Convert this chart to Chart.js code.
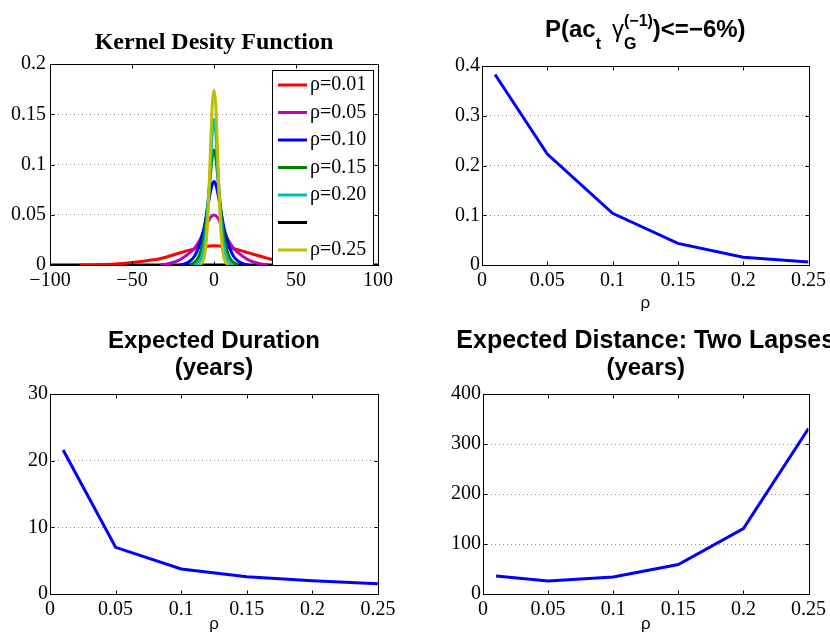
<!DOCTYPE html>
<html>
<head>
<meta charset="utf-8">
<script src="https://cdn.jsdelivr.net/npm/chart.js@4.4.1/dist/chart.umd.min.js"></script>
<style>
    html, body { margin: 0; padding: 0; background: #fff; overflow: hidden; }
    canvas { position: absolute; }
</style>
</head>
<body>
<canvas id="kdeChart" width="415" height="310" style="left:0;top:0"></canvas>
<canvas id="probChart" width="415" height="315" style="left:415px;top:0"></canvas>
<canvas id="durationChart" width="415" height="325" style="left:0;top:310px"></canvas>
<canvas id="distanceChart" width="415" height="325" style="left:415px;top:310px"></canvas>
<script>
// Kernel density curves, [x, density] pairs
var kdeRed = [[-82, 0], [-70, 0.0003], [-60, 0.0009], [-50, 0.0024], [-40, 0.0045], [-33, 0.0063], [-25, 0.0100], [-20, 0.0125], [-15, 0.0148], [-10, 0.0168], [-5, 0.0185], [0, 0.0192], [5, 0.0187], [10, 0.0170], [15, 0.0150], [20, 0.0126], [25, 0.0102], [30, 0.0079], [35, 0.0057], [40, 0.0040], [50, 0.0021], [60, 0.0009], [70, 0.0003], [82, 0]];
var kdeMagenta = [[-33, 0], [-28, 0.0013], [-24, 0.0030], [-20, 0.0060], [-16, 0.0105], [-12, 0.0165], [-10, 0.0210], [-8, 0.0270], [-6, 0.0345], [-4, 0.0418], [-2, 0.0476], [0, 0.0498], [2, 0.0476], [4, 0.0418], [6, 0.0345], [8, 0.0270], [10, 0.0210], [12, 0.0165], [16, 0.0105], [20, 0.0060], [24, 0.0030], [28, 0.0013], [33, 0]];
var kdeBlue = [[-21, 0], [-18, 0.0012], [-15, 0.0035], [-12, 0.0085], [-10, 0.0150], [-8, 0.0245], [-6, 0.0375], [-4, 0.0560], [-3, 0.0655], [-2, 0.0740], [-1, 0.0805], [0, 0.0830], [1, 0.0805], [2, 0.0740], [3, 0.0655], [4, 0.0560], [6, 0.0375], [8, 0.0245], [10, 0.0150], [12, 0.0085], [15, 0.0035], [18, 0.0012], [21, 0]];
var kdeGreen = [[-15, 0], [-12, 0.0025], [-10, 0.0060], [-8, 0.0140], [-6, 0.0300], [-5, 0.0420], [-4, 0.0570], [-3, 0.0750], [-2, 0.0930], [-1, 0.1085], [0, 0.1145], [1, 0.1085], [2, 0.0930], [3, 0.0750], [4, 0.0570], [5, 0.0420], [6, 0.0300], [8, 0.0140], [10, 0.0060], [12, 0.0025], [15, 0]];
var kdeCyan = [[-12, 0], [-10, 0.0015], [-8, 0.0060], [-6, 0.0190], [-5, 0.0310], [-4, 0.0490], [-3, 0.0740], [-2, 0.1040], [-1, 0.1330], [0, 0.1450], [1, 0.1330], [2, 0.1040], [3, 0.0740], [4, 0.0490], [5, 0.0310], [6, 0.0190], [8, 0.0060], [10, 0.0015], [12, 0]];
var kdeBlack = [[-100, 0], [100, 0]];
var kdeYellow = [[-9, 0], [-7, 0.0030], [-6, 0.0075], [-5, 0.0180], [-4, 0.0390], [-3, 0.0760], [-2, 0.1220], [-1, 0.1610], [0, 0.1740], [1, 0.1610], [2, 0.1220], [3, 0.0760], [4, 0.0390], [5, 0.0180], [6, 0.0075], [7, 0.0030], [9, 0]];
var kdeLabels = ['ρ=0.01', 'ρ=0.05', 'ρ=0.10', 'ρ=0.15', 'ρ=0.20', '', 'ρ=0.25'];
var kdeXTicks = [-100, -50, 0, 50, 100];
var kdeYTicks = [0, 0.05, 0.1, 0.15, 0.2];

// The other three panels share the same rho grid
var rho = [0.01, 0.05, 0.1, 0.15, 0.2, 0.25];
var probDrop = [0.383, 0.223, 0.104, 0.0435, 0.0155, 0.006];
var duration = [21.6, 7.0, 3.75, 2.6, 2.0, 1.55];
var distance = [36, 26, 34, 59, 131, 331];
var rhoTicks = [0, 0.05, 0.1, 0.15, 0.2, 0.25];
var probYTicks = [0, 0.1, 0.2, 0.3, 0.4];
var durationYTicks = [0, 10, 20, 30];
var distanceYTicks = [0, 100, 200, 300, 400];

var serif = '"Liberation Serif", "Times New Roman", serif';
var sans = '"Liberation Sans", Arial, sans-serif';
var kdeColors = ['#ff0000', '#bf00bf', '#0000ff', '#008000', '#00bfbf', '#000000', '#bfbf00'];

function tickText(v) {
    return String(+v.toFixed(4)).replace('-', '\u2212');
}

function fixedTicks(values) {
    return function (scale) {
        scale.ticks = values.map(function (v) { return { value: v }; });
    };
}

function toPoints(pairs) {
    return pairs.map(function (p) { return { x: p[0], y: p[1] }; });
}

// MATLAB style box with inward tick marks on all four sides
var axesBox = {
    id: 'axesBox',
    afterDatasetsDraw: function (chart) {
        var ctx = chart.ctx, a = chart.chartArea;
        var sx = chart.scales.x, sy = chart.scales.y;
        var l = Math.round(a.left) + 0.5, r = Math.round(a.right) + 0.5;
        var t = Math.round(a.top) + 0.5, b = Math.round(a.bottom) + 0.5;
        ctx.save();
        ctx.strokeStyle = '#000';
        ctx.lineWidth = 1;
        ctx.beginPath();
        sx.ticks.forEach(function (tk) {
            var px = Math.round(sx.getPixelForValue(tk.value)) + 0.5;
            ctx.moveTo(px, b); ctx.lineTo(px, b - 4);
            ctx.moveTo(px, t); ctx.lineTo(px, t + 4);
        });
        sy.ticks.forEach(function (tk) {
            var py = Math.round(sy.getPixelForValue(tk.value)) + 0.5;
            ctx.moveTo(l, py); ctx.lineTo(l + 4, py);
            ctx.moveTo(r, py); ctx.lineTo(r - 4, py);
        });
        ctx.stroke();
        ctx.strokeRect(l, t, r - l, b - t);
        ctx.restore();
    }
};

// Title made of runs so sub/superscripts can be placed; centred on the plot area
function panelTitle(lines) {
    return {
        id: 'panelTitle',
        afterDraw: function (chart) {
            var ctx = chart.ctx, a = chart.chartArea;
            var cx = (a.left + a.right) / 2;
            ctx.save();
            ctx.fillStyle = '#000';
            ctx.textAlign = 'left';
            ctx.textBaseline = 'alphabetic';
            lines.forEach(function (line) {
                var widths = line.runs.map(function (run) {
                    if (run.gap) return run.gap;
                    ctx.font = run.font;
                    var parts = run.stack || [run];
                    return Math.max.apply(null, parts.map(function (p) { return ctx.measureText(p.text).width; }));
                });
                var total = widths.reduce(function (s, w) { return s + w; }, 0);
                var x = cx - total / 2;
                line.runs.forEach(function (run, i) {
                    if (!run.gap) {
                        ctx.font = run.font;
                        (run.stack || [run]).forEach(function (p) {
                            ctx.fillText(p.text, x, line.y + (p.dy || 0));
                        });
                    }
                    x += widths[i];
                });
            });
            ctx.restore();
        }
    };
}

// Legend box sitting inside the top-right corner of the density plot
var kdeLegend = {
    id: 'kdeLegend',
    afterDraw: function (chart) {
        var ctx = chart.ctx, a = chart.chartArea;
        var left = Math.round(a.right) - 106, right = Math.round(a.right) - 5;
        var top = Math.round(a.top) + 6, bottom = Math.round(a.bottom);
        ctx.save();
        ctx.fillStyle = '#fff';
        ctx.fillRect(left, top, right - left, bottom - top);
        ctx.strokeStyle = '#000';
        ctx.lineWidth = 1;
        ctx.strokeRect(left + 0.5, top + 0.5, right - left, bottom - top);
        ctx.font = '20px ' + serif;
        ctx.textBaseline = 'middle';
        chart.data.datasets.forEach(function (ds, i) {
            var cy = top + 15 + i * 27.5;
            ctx.strokeStyle = ds.borderColor;
            ctx.lineWidth = 3;
            ctx.beginPath();
            ctx.moveTo(left + 6, cy);
            ctx.lineTo(left + 35, cy);
            ctx.stroke();
            ctx.fillStyle = '#000';
            ctx.fillText(ds.label, left + 38, cy);
        });
        ctx.restore();
    }
};

function panelOptions(p) {
    return {
        responsive: false,
        animation: false,
        devicePixelRatio: 1,
        layout: { padding: { top: p.top, right: p.right, left: 0, bottom: 0 } },
        plugins: {
            legend: { display: false },
            tooltip: { enabled: false },
            title: { display: false }
        },
        elements: { point: { radius: 0 }, line: { borderWidth: 3 } },
        scales: {
            x: {
                type: 'linear',
                min: p.xTicks[0],
                max: p.xTicks[p.xTicks.length - 1],
                afterBuildTicks: fixedTicks(p.xTicks),
                afterFit: function (scale) { scale.height = p.xHeight; },
                grid: { display: false, drawTicks: false },
                border: { display: false },
                ticks: { color: '#000', font: { family: serif, size: 20 }, padding: 4, autoSkip: false, maxRotation: 0, callback: tickText },
                title: {
                    display: !!p.xTitle,
                    text: p.xTitle || '',
                    color: '#000',
                    font: { family: sans, size: 17, lineHeight: 1 },
                    padding: { top: 0, bottom: p.xTitlePad || 0 }
                }
            },
            y: {
                type: 'linear',
                min: p.yTicks[0],
                max: p.yTicks[p.yTicks.length - 1],
                afterBuildTicks: fixedTicks(p.yTicks),
                afterFit: function (scale) { scale.width = p.yWidth; },
                grid: { color: 'rgba(0,0,0,0.45)', lineWidth: 1, drawTicks: false },
                border: { display: false, dash: [1, 3] },
                ticks: { color: '#000', font: { family: serif, size: 20 }, padding: p.yPad, autoSkip: false, callback: tickText }
            }
        }
    };
}

function rhoLine(values) {
    return {
        datasets: [{
            data: rho.map(function (r, i) { return { x: r, y: values[i] }; }),
            borderColor: '#0000ff',
            borderWidth: 3,
            tension: 0
        }]
    };
}

var boldTitle = 'bold 24px ' + sans;
var subFont = 'bold 16px ' + sans;

// Kernel density panel
var kdeSeries = [kdeRed, kdeMagenta, kdeBlue, kdeGreen, kdeCyan, kdeBlack, kdeYellow];
var kdeChart = new Chart(document.getElementById('kdeChart'), {
    type: 'line',
    data: {
        datasets: kdeSeries.map(function (pairs, i) {
            return {
                label: kdeLabels[i],
                data: toPoints(pairs),
                borderColor: kdeColors[i],
                borderWidth: 3,
                cubicInterpolationMode: 'monotone',
                // later curves sit on top, black stays underneath
                order: i === 5 ? 10 : 6 - i
            };
        })
    },
    options: panelOptions({ top: 64, right: 37, xHeight: 45, yWidth: 50, yPad: 4, xTicks: kdeXTicks, yTicks: kdeYTicks }),
    plugins: [axesBox, kdeLegend, panelTitle([
        { y: 49, runs: [{ text: 'Kernel Desity Function', font: 'bold 24px ' + serif }] }
    ])]
});

// P(ac_t gamma_G^(-1)) <= -6%
var probChart = new Chart(document.getElementById('probChart'), {
    type: 'line',
    data: rhoLine(probDrop),
    options: panelOptions({ top: 66, right: 19, xHeight: 50, yWidth: 67, yPad: 2, xTicks: rhoTicks, yTicks: probYTicks, xTitle: 'ρ', xTitlePad: 3 }),
    plugins: [axesBox, panelTitle([
        { y: 37, runs: [
            { text: 'P(ac', font: boldTitle },
            { text: 't', font: subFont, dy: 12 },
            { gap: 11 },
            { text: 'γ', font: '24px ' + sans },
            { font: subFont, stack: [{ text: 'G', dy: 12 }, { text: '(\u22121)', dy: -11 }] },
            { text: ')<=\u22126%)', font: boldTitle }
        ] }
    ])]
});

// Expected duration
var durationChart = new Chart(document.getElementById('durationChart'), {
    type: 'line',
    data: rhoLine(duration),
    options: panelOptions({ top: 84, right: 37, xHeight: 41, yWidth: 50, yPad: 2, xTicks: rhoTicks, yTicks: durationYTicks, xTitle: 'ρ', xTitlePad: 2.5 }),
    plugins: [axesBox, panelTitle([
        { y: 38, runs: [{ text: 'Expected Duration', font: boldTitle }] },
        { y: 65, runs: [{ text: '(years)', font: boldTitle }] }
    ])]
});

// Expected distance between two lapses
var distanceChart = new Chart(document.getElementById('distanceChart'), {
    type: 'line',
    data: rhoLine(distance),
    options: panelOptions({ top: 84, right: 19, xHeight: 41, yWidth: 68, yPad: 2, xTicks: rhoTicks, yTicks: distanceYTicks, xTitle: 'ρ', xTitlePad: 2.5 }),
    plugins: [axesBox, panelTitle([
        { y: 38, runs: [{ text: 'Expected Distance: Two Lapses', font: 'bold 25px ' + sans }] },
        { y: 65, runs: [{ text: '(years)', font: boldTitle }] }
    ])]
});
</script>
</body>
</html>
